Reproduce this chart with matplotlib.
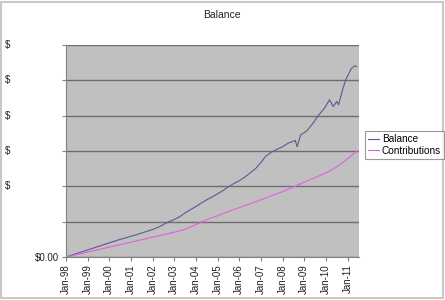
import matplotlib
matplotlib.use("Agg")
import matplotlib.pyplot as plt
from matplotlib.transforms import blended_transform_factory

# ---- data (values in chart units where 1 unit = one gridline step) ----
balance_dates = ["1998-01", "1998-04", "1998-07", "1998-10", "1999-01", "1999-04", "1999-07", "1999-10",
                 "2000-01", "2000-04", "2000-07", "2000-10", "2001-01", "2001-04", "2001-07", "2001-10",
                 "2002-01", "2002-04", "2002-07", "2002-10", "2003-01", "2003-04", "2003-07", "2003-10",
                 "2004-01", "2004-04", "2004-07", "2004-10", "2005-01", "2005-04", "2005-07", "2005-10",
                 "2006-01", "2006-04", "2006-07", "2006-10", "2007-01", "2007-04", "2007-07", "2007-10",
                 "2008-01", "2008-04", "2008-07", "2008-08", "2008-09", "2008-11", "2009-01", "2009-03",
                 "2009-06", "2009-09", "2009-12", "2010-03", "2010-05", "2010-07", "2010-08", "2010-10",
                 "2010-12", "2011-03", "2011-05", "2011-06"]
balance_values = [0.00, 0.05, 0.10, 0.15, 0.20, 0.25, 0.30, 0.35,
                  0.40, 0.45, 0.50, 0.54, 0.59, 0.63, 0.68, 0.73,
                  0.78, 0.84, 0.92, 1.00, 1.06, 1.14, 1.25, 1.34,
                  1.43, 1.53, 1.62, 1.70, 1.79, 1.88, 1.99, 2.08,
                  2.16, 2.26, 2.38, 2.50, 2.68, 2.87, 2.97, 3.05,
                  3.12, 3.22, 3.28, 3.30, 3.12, 3.46, 3.52, 3.60,
                  3.80, 4.02, 4.20, 4.45, 4.26, 4.40, 4.31, 4.70,
                  5.02, 5.33, 5.41, 5.39]

contrib_dates = ["1998-01", "1999-01", "2000-01", "2001-01", "2002-01", "2003-01", "2003-07", "2004-01",
                 "2004-07", "2005-01", "2006-01", "2007-01", "2008-01", "2009-01", "2010-01", "2010-07",
                 "2011-01", "2011-06"]
contrib_values = [0.00, 0.14, 0.28, 0.42, 0.56, 0.70, 0.78, 0.92,
                  1.06, 1.17, 1.40, 1.62, 1.85, 2.12, 2.38, 2.55,
                  2.78, 2.99]

tick_years = list(range(1998, 2012))
tick_labels = ["Jan-%02d" % (y % 100) for y in tick_years]
y_ticks = [0, 1, 2, 3, 4, 5, 6]
y_labels = ["$0.00", "", "$", "$", "$", "$", "$"]


def to_year(s):
    y, m = s.split("-")
    return int(y) + (int(m) - 1) / 12.0


bx = [to_year(d) for d in balance_dates]
cx = [to_year(d) for d in contrib_dates]

plt.rcParams["font.family"] = ["Liberation Sans", "DejaVu Sans"]

fig = plt.figure(figsize=(4.45, 3.0), dpi=100)
fig.patch.set_facecolor("white")
ax = fig.add_axes([66 / 445, 1 - 257 / 300, (359 - 66) / 445, (257 - 45) / 300])
ax.set_facecolor("#c0c0c0")

ax.plot(bx, balance_values, color="#5a5a94", lw=0.8, label="Balance")
ax.plot(cx, contrib_values, color="#e060e0", lw=0.8, label="Contributions")

ax.set_xlim(1998, 2011 + 6.3 / 12)
ax.set_ylim(0, 6)
ax.set_yticks(y_ticks)
# "$0.00" sits next to the axis; the truncated "$" labels sit at the far left of the chart
ax.set_yticklabels([lab if lab.startswith("$0") else "" for lab in y_labels], fontsize=7, color="#222222")
trans = blended_transform_factory(fig.transFigure, ax.transData)
for val, lab in zip(y_ticks, y_labels):
    if lab and not lab.startswith("$0"):
        ax.text(5 / 445, val, lab, transform=trans, ha="left", va="center", fontsize=7, color="#222222")
ax.set_xticks(tick_years)
ax.set_xticklabels(tick_labels, rotation=90, fontsize=7, color="#222222")
ax.tick_params(axis="both", direction="out", length=3, width=0.8, color="#808080", pad=2)
ax.yaxis.grid(True, color="#6e6e6e", lw=1.0)
ax.set_axisbelow(True)
for side in ["top", "right"]:
    ax.spines[side].set_visible(False)
ax.spines["left"].set_color("#808080")
ax.spines["bottom"].set_color("#808080")

fig.text(222 / 445, 1 - 15 / 300, "Balance", ha="center", va="center", fontsize=7.5, color="#222222")

leg = fig.legend(loc="center left", bbox_to_anchor=(365 / 445, 1 - 145 / 300), fontsize=7.2,
                 frameon=True, fancybox=False, edgecolor="#808080", handlelength=1.1,
                 handletextpad=0.3, borderpad=0.3, labelspacing=0.15, borderaxespad=0)
leg.get_frame().set_linewidth(0.8)

# outer chart border
fig.add_artist(plt.Rectangle((0.002, 0.008), 0.993, 0.985, transform=fig.transFigure,
                             fill=False, edgecolor="#c8c8c8", lw=1.5))

fig.savefig("out.png", dpi=100)
